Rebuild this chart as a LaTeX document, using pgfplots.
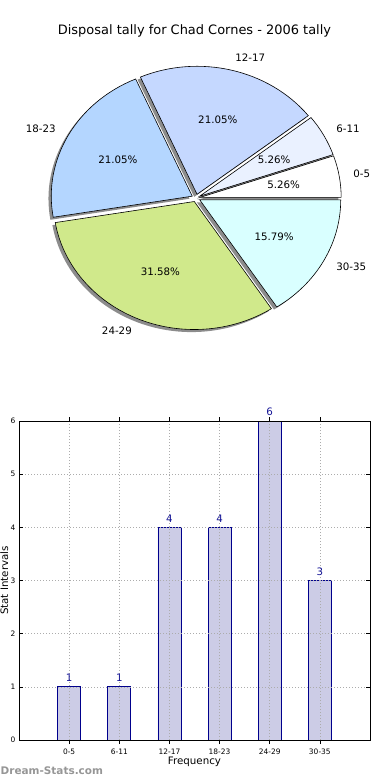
\documentclass[border=0pt]{standalone}
\usepackage{pgfplots}
\pgfplotsset{compat=1.18}
\usepackage{fontspec}
\setmainfont{DejaVu Sans}
\definecolor{c0}{RGB}{255,255,255}
\definecolor{c1}{RGB}{234,241,255}
\definecolor{c2}{RGB}{197,216,255}
\definecolor{c3}{RGB}{180,214,255}
\definecolor{c4}{RGB}{208,233,139}
\definecolor{c5}{RGB}{217,255,255}
\definecolor{barfill}{RGB}{204,204,230}
\definecolor{baredge}{RGB}{0,0,140}
\definecolor{lblblue}{RGB}{20,20,150}
\definecolor{wmgray}{RGB}{150,150,150}

% value / colour / label
\def\pielist{1/c0/0-5, 1/c1/6-11, 4/c2/12-17, 4/c3/18-23, 6/c4/24-29, 3/c5/30-35}
\def\explode{0.03}
\def\shoff{0.02}
\newcommand\pielabfont{\fontsize{10.3}{12}\selectfont}

\newcommand\piecalc[1]{%
  \pgfmathsetmacro\aS{360*\cum/\pietotal}%
  \pgfmathsetmacro\aE{360*(\cum+#1)/\pietotal}%
  \pgfmathsetmacro\aM{(\aS+\aE)/2}%
  \pgfmathsetmacro\ex{\explode*cos(\aM)}%
  \pgfmathsetmacro\ey{\explode*sin(\aM)}%
  \pgfmathsetmacro\sx{\ex-\shoff}%
  \pgfmathsetmacro\sy{\ey-\shoff}%
  \pgfmathsetmacro\lx{\ex+1.1*cos(\aM)}%
  \pgfmathsetmacro\ly{\ey+1.1*sin(\aM)}%
  \pgfmathsetmacro\px{\ex+0.6*cos(\aM)}%
  \pgfmathsetmacro\py{\ey+0.6*sin(\aM)}%
  \pgfmathsetmacro\pct{100*#1/\pietotal}%
  \pgfmathparse{cos(\aM)>0}%
  \ifdim\pgfmathresult pt>0.5pt \def\anc{west}\else\def\anc{east}\fi
  \pgfmathsetmacro\newcum{\cum+#1}%
  \xdef\cum{\newcum}%
}

\begin{document}
\begin{tikzpicture}
\gdef\pietotal{0}
\foreach \pv/\pc/\pl in \pielist {\pgfmathsetmacro\t{\pietotal+\pv}\xdef\pietotal{\t}}

\node[font=\fontsize{13}{15}\selectfont, anchor=base, inner sep=0pt] at (194.5bp,-34.3bp) {Disposal tally for Chad Cornes - 2006 tally};

\begin{axis}[at={(196bp,-198bp)}, anchor=center, hide axis, clip=false,
  x=141bp, y=128bp, xmin=-1.6, xmax=1.6, ymin=-1.6, ymax=1.6]
  % shadows
  \gdef\cum{0}
  \foreach \pv/\pc/\pl in \pielist {%
    \piecalc{\pv}%
    \edef\temp{\noexpand\fill[black!45] (axis cs:\sx,\sy) -- ++(\aS:141bp and 128bp)
      arc[start angle=\aS, end angle=\aE, x radius=141bp, y radius=128bp] -- cycle;}%
    \temp
  }
  % wedges
  \gdef\cum{0}
  \foreach \pv/\pc/\pl in \pielist {%
    \piecalc{\pv}%
    \edef\temp{\noexpand\filldraw[fill=\pc, draw=black, line width=0.6bp, line join=miter] (axis cs:\ex,\ey) -- ++(\aS:141bp and 128bp)
      arc[start angle=\aS, end angle=\aE, x radius=141bp, y radius=128bp] -- cycle;}%
    \temp
  }
  % labels
  \gdef\cum{0}
  \foreach \pv/\pc/\pl in \pielist {%
    \piecalc{\pv}%
    \edef\temp{\noexpand\node[anchor=\anc, inner sep=0pt, font=\noexpand\pielabfont] at (axis cs:\lx,\ly) {\pl};
      \noexpand\node[inner sep=0pt, font=\noexpand\pielabfont] at (axis cs:\px,\py) {\noexpand\pgfmathprintnumber[fixed,fixed zerofill,precision=2,assume math mode=true]{\pct}\noexpand\%};}%
    \temp
  }
\end{axis}

\begin{axis}[at={(19bp,-740bp)}, anchor=south west, scale only axis,
  width=351bp, height=319bp,
  xmin=-1, xmax=6, ymin=0, ymax=6,
  xtick={0,1,2,3,4,5},
  xticklabels={0-5,6-11,12-17,18-23,24-29,30-35},
  ytick={0,1,2,3,4,5,6},
  tick align=inside, tick pos=both, major tick length=4bp,
  tick style={black, line width=0.5bp},
  grid=major,
  major grid style={draw=gray!65, dash pattern=on 1bp off 2bp, line width=0.6bp},
  axis line style={black, line width=0.9bp},
  axis on top,
  ybar, bar width=23bp,
  /pgf/number format/assume math mode=true,
  ticklabel style={font=\fontsize{7.5}{9}\selectfont, inner sep=0pt},
  xticklabel style={yshift=-5bp},
  yticklabel style={xshift=-3.3bp},
  xlabel={Frequency},
  xlabel style={font=\pielabfont, at={(axis description cs:0.5,0)}, anchor=base, yshift=-24.5bp, inner sep=0pt},
  ylabel={Stat Intervals},
  ylabel style={font=\pielabfont, at={(axis description cs:-0.031,0.5)}, anchor=base, inner sep=0pt},
  nodes near coords,
  nodes near coords style={font=\pielabfont, text=lblblue, inner sep=0pt, anchor=south, yshift=4.5bp},
]
\addplot[fill=barfill, draw=baredge, line width=0.8bp] coordinates {(0,1) (1,1) (2,4) (3,4) (4,6) (5,3)};
\end{axis}

\node[font=\bfseries\fontsize{10.5}{12}\selectfont, text=wmgray, anchor=base west, inner sep=0pt] at (0.5bp,-774bp) {Dream-Stats.com};

\pgfresetboundingbox
\path[use as bounding box] (0bp,0bp) rectangle (390bp,-780bp);
\end{tikzpicture}
\end{document}
